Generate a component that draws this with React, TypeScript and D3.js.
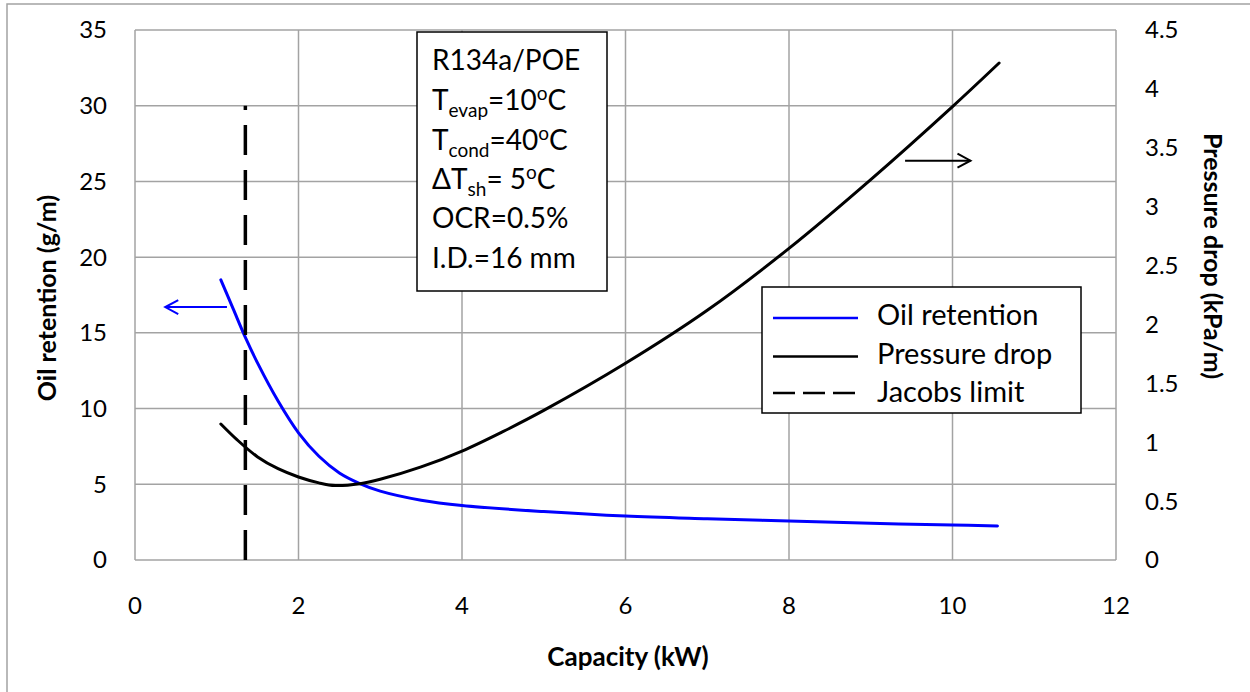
import React from "react";
import * as d3 from "d3";

// Capacity (kW) sample points for each curve
const oilCapacity = [1.05, 1.2, 1.35, 1.5, 1.75, 2, 2.25, 2.5, 2.75, 3, 3.5, 4, 5, 6, 7, 8, 9, 10, 10.55];
const oilRetention = [18.5, 16.6, 14.7, 13.0, 10.5, 8.4, 6.85, 5.75, 5.05, 4.55, 3.95, 3.6, 3.2, 2.9, 2.72, 2.57, 2.42, 2.31, 2.25];

const dpCapacity = [1.05, 1.25, 1.5, 1.75, 2, 2.25, 2.45, 2.75, 3, 3.5, 4, 4.5, 5, 6, 7, 8, 9, 10, 10.57];
const pressureDrop = [1.155, 1.02, 0.875, 0.775, 0.705, 0.655, 0.632, 0.648, 0.685, 0.79, 0.925, 1.09, 1.27, 1.67, 2.12, 2.646, 3.23, 3.85, 4.22];

// Jacobs limit: vertical line at this capacity, from 0 to 30 g/m
const jacobsCapacity = 1.35;
const jacobsRange = [0, 30];

const xTicks = [0, 2, 4, 6, 8, 10, 12];
const yLeftTicks = [0, 5, 10, 15, 20, 25, 30, 35];
const yRightTicks = [0, 0.5, 1, 1.5, 2, 2.5, 3, 3.5, 4, 4.5];

// Arrow annotations pointing to the axis each curve belongs to
const oilArrow = { from: 1.125, to: 0.37, y: 16.7 };
const dpArrow = { from: 9.42, to: 10.22, y: 3.39 };

const FONT = "Lato, 'Open Sans', sans-serif";
const GRID = "#a3a3a3";

export default function App() {
  const left = 135, right = 1116, top = 30, bottom = 560;
  const x = d3.scaleLinear().domain([0, 12]).range([left, right]);
  const yL = d3.scaleLinear().domain([0, 35]).range([bottom, top]);
  const yR = d3.scaleLinear().domain([0, 4.5]).range([bottom, top]);

  const oilLine = d3
    .line<number>()
    .x((_, i) => x(oilCapacity[i]))
    .y((d) => yL(d))
    .curve(d3.curveCatmullRom.alpha(0.5))(oilRetention) as string;

  const dpLine = d3
    .line<number>()
    .x((_, i) => x(dpCapacity[i]))
    .y((d) => yR(d))
    .curve(d3.curveCatmullRom.alpha(0.5))(pressureDrop) as string;

  const arrow = (x1: number, x2: number, y: number, color: string, key: string) => {
    const dir = x2 < x1 ? 1 : -1;
    return (
      <g key={key} stroke={color} strokeWidth={2} fill="none">
        <line x1={x1} y1={y} x2={x2} y2={y} />
        <polyline points={`${x2 + dir * 13},${y - 7} ${x2},${y} ${x2 + dir * 13},${y + 7}`} />
      </g>
    );
  };

  const sub = 19;
  const big = 28;

  return (
    <svg
      width={1250}
      height={692}
      style={{ position: "absolute", left: 0, top: 0, background: "#fff" }}
      fontFamily={FONT}
    >
      <rect x={0} y={0} width={1250} height={692} fill="#fff" />
      {/* outer chart border */}
      <path d="M7,700 L7,4 L1260,4" fill="none" stroke={GRID} strokeWidth={1.5} />

      {/* grid */}
      {yLeftTicks.map((t) => (
        <line key={"h" + t} x1={left} x2={right} y1={yL(t)} y2={yL(t)} stroke={GRID} strokeWidth={1.5} />
      ))}
      {xTicks.map((t) => (
        <line key={"v" + t} x1={x(t)} x2={x(t)} y1={top} y2={bottom} stroke={GRID} strokeWidth={1.5} />
      ))}

      {/* tick labels */}
      {yLeftTicks.map((t) => (
        <text key={"yl" + t} x={107} y={yL(t)} dy="0.35em" textAnchor="end" fontSize={24} fill="#000">
          {t}
        </text>
      ))}
      {yRightTicks.map((t) => (
        <text key={"yr" + t} x={1145} y={yR(t)} dy="0.35em" textAnchor="start" fontSize={24} fill="#000">
          {t}
        </text>
      ))}
      {xTicks.map((t) => (
        <text key={"xt" + t} x={x(t)} y={606} dy="0.35em" textAnchor="middle" fontSize={24} fill="#000">
          {t}
        </text>
      ))}

      {/* axis titles */}
      <text x={628} y={657} dy="0.35em" textAnchor="middle" fontSize={26} fontWeight="bold">
        Capacity (kW)
      </text>
      <text
        transform={`translate(47,298) rotate(-90)`}
        dy="0.35em"
        textAnchor="middle"
        fontSize={25}
        fontWeight="bold"
      >
        Oil retention (g/m)
      </text>
      <text
        transform={`translate(1213,256) rotate(90)`}
        dy="0.35em"
        textAnchor="middle"
        fontSize={25}
        fontWeight="bold"
      >
        Pressure drop (kPa/m)
      </text>

      {/* condition box */}
      <rect x={417} y={32} width={190} height={259} fill="#fff" stroke="#000" strokeWidth={1.5} />
      <g fontSize={big} fill="#000">
        <text x={432} y={70}>R134a/POE</text>
        <text x={432} y={110}>
          T<tspan fontSize={sub} dy={7}>evap</tspan>
          <tspan dy={-7}>=10</tspan>
          <tspan fontSize={sub} dy={-10}>o</tspan>
          <tspan dy={10}>C</tspan>
        </text>
        <text x={432} y={150}>
          T<tspan fontSize={sub} dy={7}>cond</tspan>
          <tspan dy={-7}>=40</tspan>
          <tspan fontSize={sub} dy={-10}>o</tspan>
          <tspan dy={10}>C</tspan>
        </text>
        <text x={432} y={189}>
          ΔT<tspan fontSize={sub} dy={7}>sh</tspan>
          <tspan dy={-7}>= 5</tspan>
          <tspan fontSize={sub} dy={-10}>o</tspan>
          <tspan dy={10}>C</tspan>
        </text>
        <text x={432} y={228}>OCR=0.5%</text>
        <text x={432} y={268}>I.D.=16 mm</text>
      </g>

      {/* curves */}
      <path d={oilLine} fill="none" stroke="#0000ff" strokeWidth={3} strokeLinecap="round" />
      <path d={dpLine} fill="none" stroke="#000" strokeWidth={3} strokeLinecap="round" />
      <line
        x1={x(jacobsCapacity)}
        x2={x(jacobsCapacity)}
        y1={yL(jacobsRange[0])}
        y2={yL(jacobsRange[1])}
        stroke="#000"
        strokeWidth={3.5}
        strokeDasharray="30,15"
      />

      {/* axis arrows */}
      {arrow(x(oilArrow.from), x(oilArrow.to), yL(oilArrow.y), "#0000ff", "oa")}
      {arrow(x(dpArrow.from), x(dpArrow.to), yR(dpArrow.y), "#000", "da")}

      {/* legend */}
      <rect x={762} y={287} width={319} height={126} fill="#fff" stroke="#000" strokeWidth={1.5} />
      <line x1={773} x2={858} y1={318} y2={318} stroke="#0000ff" strokeWidth={2.5} />
      <line x1={773} x2={858} y1={356.5} y2={356.5} stroke="#000" strokeWidth={2.5} />
      <line x1={773} x2={858} y1={393} y2={393} stroke="#000" strokeWidth={2.5} strokeDasharray="22,8" />
      <g fontSize={29} fill="#000">
        <text x={877} y={325}>Oil retention</text>
        <text x={877} y={364}>Pressure drop</text>
        <text x={877} y={402}>Jacobs limit</text>
      </g>
    </svg>
  );
}
